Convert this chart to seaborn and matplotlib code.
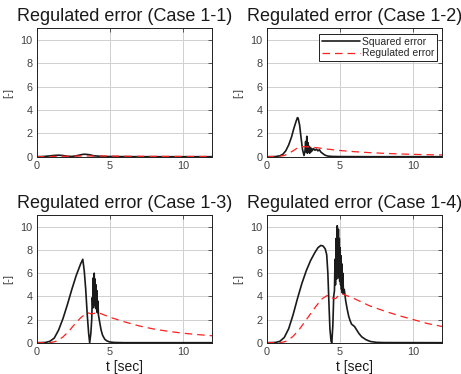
import matplotlib
matplotlib.use("Agg")
import matplotlib.pyplot as plt
import seaborn as sns
import pandas as pd

# ---------------- data ----------------
titles = ["Regulated error (Case 1-1)", "Regulated error (Case 1-2)",
          "Regulated error (Case 1-3)", "Regulated error (Case 1-4)"]
series_names = ["Squared error", "Regulated error"]
x_ticks = [0, 5, 10]
y_ticks = [0, 2, 4, 6, 8, 10]

# Case 1-1
sq1_t = [0, 0.5, 0.9, 1.2, 1.5, 1.8, 2.1, 2.4, 2.8, 3.1, 3.3, 3.6, 3.9, 4.3, 4.8, 5.5, 7, 9, 12]
sq1_v = [0, 0.02, 0.07, 0.11, 0.13, 0.1, 0.04, 0.02, 0.1, 0.19, 0.21, 0.17, 0.08, 0.04, 0.02, 0.01, 0, 0, 0]
rg1_t = [0, 1.0, 2.0, 3.0, 4.0, 5.0, 6.0, 8.0, 10.0, 12.0]
rg1_v = [0, 0.02, 0.04, 0.06, 0.06, 0.05, 0.04, 0.03, 0.02, 0.02]

# Case 1-2
sq2_t = [0, 0.6, 0.9, 1.1, 1.3, 1.5, 1.7, 1.85, 2.0, 2.1, 2.15, 2.25, 2.35, 2.45, 2.55,
         2.62, 2.66, 2.7, 2.74, 2.78, 2.82, 2.86, 2.9, 2.94, 2.98, 3.02, 3.06, 3.1,
         3.2, 3.3, 3.4, 3.5, 3.6, 3.7, 3.85, 4.0, 4.2, 4.5, 5.0, 7, 12]
sq2_v = [0, 0.01, 0.08, 0.2, 0.5, 1.0, 1.7, 2.4, 3.0, 3.35, 3.3, 2.7, 1.6, 0.6, 0.1,
         0.5, 1.3, 0.4, 1.75, 0.3, 1.2, 0.4, 0.9, 0.3, 0.8, 0.4, 0.7, 0.5,
         0.7, 0.55, 0.65, 0.5, 0.6, 0.4, 0.25, 0.12, 0.05, 0.02, 0.01, 0, 0]
rg2_t = [0, 0.8, 1.2, 1.5, 1.8, 2.1, 2.3, 2.6, 3.0, 3.5, 4.0, 4.5, 5.0, 6.0, 7.0, 8.0, 9.0, 10.0, 11.0, 12.0]
rg2_v = [0, 0.02, 0.1, 0.28, 0.5, 0.75, 0.85, 0.86, 0.83, 0.76, 0.67, 0.6, 0.53, 0.43, 0.35, 0.29, 0.24, 0.2, 0.17, 0.15]

# Case 1-3
sq3_t = [0, 0.6, 0.9, 1.2, 1.5, 1.8, 2.1, 2.4, 2.7, 3.0, 3.15, 3.25, 3.35, 3.45, 3.55, 3.62,
         3.7, 3.76, 3.8, 3.84, 3.87, 3.9, 3.93, 3.96, 3.99, 4.02, 4.05, 4.08, 4.11, 4.14,
         4.18, 4.22, 4.3, 4.4, 4.5, 4.65, 4.8, 5.0, 5.3, 6, 12]
sq3_v = [0, 0.02, 0.12, 0.4, 1.1, 2.1, 3.3, 4.6, 5.8, 6.8, 7.2, 6.2, 4.6, 2.5, 0.8, 0.0,
         0.8, 2.0, 3.9, 3.0, 5.6, 3.2, 6.0, 3.4, 5.5, 3.0, 5.0, 2.9, 4.5, 2.6,
         3.6, 2.4, 1.8, 1.1, 0.65, 0.3, 0.15, 0.06, 0.02, 0, 0]
rg3_t = [0, 1.0, 1.4, 1.8, 2.2, 2.6, 3.0, 3.3, 3.5, 3.7, 3.9, 4.1, 4.3, 4.6, 5.0, 5.5, 6.0, 7.0, 8.0, 9.0, 10.0, 11.0, 12.0]
rg3_v = [0, 0.02, 0.15, 0.5, 1.0, 1.6, 2.15, 2.45, 2.58, 2.5, 2.52, 2.6, 2.55, 2.4, 2.2, 2.0, 1.8, 1.45, 1.18, 0.98, 0.82, 0.7, 0.6]

# Case 1-4
sq4_t = [0, 0.6, 0.9, 1.2, 1.5, 1.8, 2.1, 2.4, 2.7, 3.0, 3.3, 3.5, 3.7, 3.85, 4.0, 4.1, 4.18,
         4.25, 4.32, 4.4, 4.45, 4.52, 4.58, 4.63, 4.67, 4.7, 4.74, 4.78, 4.82, 4.86, 4.9,
         4.93, 4.96, 4.99, 5.02, 5.05, 5.08, 5.11, 5.14, 5.17, 5.2, 5.25, 5.3, 5.4, 5.5,
         5.6, 5.7, 5.8, 5.9, 6.0, 6.1, 6.2, 6.3, 6.5, 6.8, 7.1, 7.5, 8.0, 12]
sq4_v = [0, 0.02, 0.12, 0.45, 1.2, 2.4, 3.8, 5.1, 6.2, 7.1, 7.8, 8.2, 8.4, 8.35, 8.1, 7.6, 6.0,
         3.5, 1.2, 0.1, 0.0, 1.5, 4.0, 4.5, 7.2, 5.0, 9.0, 5.5, 10.1, 6.0, 9.8,
         5.6, 9.0, 5.3, 8.2, 5.0, 7.5, 4.6, 6.8, 4.3, 6.0, 4.2, 4.6, 3.6, 2.9,
         2.3, 1.9, 1.6, 1.5, 1.4, 1.2, 1.0, 0.8, 0.5, 0.25, 0.1, 0.03, 0.01, 0]
rg4_t = [0, 1.0, 1.4, 1.8, 2.2, 2.6, 3.0, 3.4, 3.8, 4.1, 4.3, 4.5, 4.7, 4.9, 5.1, 5.5, 6.0, 6.5, 7.0, 8.0, 9.0, 10.0, 11.0, 12.0]
rg4_v = [0, 0.02, 0.15, 0.55, 1.1, 1.8, 2.5, 3.2, 3.8, 4.05, 4.1, 3.85, 3.8, 4.05, 4.25, 4.05, 3.8, 3.5, 3.2, 2.75, 2.35, 2.0, 1.65, 1.4]

cases = [
    (sq1_t, sq1_v, rg1_t, rg1_v),
    (sq2_t, sq2_v, rg2_t, rg2_v),
    (sq3_t, sq3_v, rg3_t, rg3_v),
    (sq4_t, sq4_v, rg4_t, rg4_v),
]

# ---------------- drawing ----------------
sns.set_style("white")
plt.rcParams["font.family"] = ["Liberation Sans", "DejaVu Sans"]

fig = plt.figure(figsize=(4.61, 3.74), dpi=100)
W, H = 461, 374
boxes = [(36.7, 28.3, 212.3, 156.7), (266.7, 28.3, 442.3, 156.7),
         (36.7, 215.3, 212.3, 342.7), (266.7, 215.3, 442.3, 342.7)]

tick_col = "#404040"
for i, (box, title, (st, sv, rt, rv)) in enumerate(zip(boxes, titles, cases)):
    x0, y0, x1, y1 = box
    ax = fig.add_axes([x0 / W, 1 - y1 / H, (x1 - x0) / W, (y1 - y0) / H])
    df_sq = pd.DataFrame({"t": st, "v": sv})
    df_rg = pd.DataFrame({"t": rt, "v": rv})
    sns.lineplot(data=df_sq, x="t", y="v", ax=ax, color="#1a1a1a", lw=1.2,
                 label=series_names[0], estimator=None, sort=False)
    sns.lineplot(data=df_rg, x="t", y="v", ax=ax, color="#ff2020", lw=0.9,
                 label=series_names[1], estimator=None, sort=False)
    ax.lines[-1].set_dashes((6, 4))
    ax.set_xlim(0, 12)
    ax.set_ylim(0, 11)
    ax.set_xticks(x_ticks)
    ax.set_yticks(y_ticks)
    ax.grid(True, color="#d0d0d0", lw=0.7)
    ax.tick_params(direction="in", length=3, width=0.6, labelsize=7.8,
                   colors=tick_col, pad=3, top=True, right=True)
    ax.tick_params(axis="both", labelcolor=tick_col)
    for s in ax.spines.values():
        s.set_color("#202020")
        s.set_linewidth(0.7)
    ax.set_title(title, fontsize=13, color="#1a1a1a", pad=5)
    ax.set_ylabel("[-]", fontsize=8, color=tick_col, labelpad=5)
    if i >= 2:
        ax.set_xlabel("t [sec]", fontsize=10, color="#1a1a1a", labelpad=2)
    else:
        ax.set_xlabel("")
    if i == 1:
        leg = ax.legend(loc="upper right", fontsize=7.5, frameon=True, fancybox=False,
                        borderpad=0.3, handlelength=3.6, handletextpad=0.2,
                        labelspacing=0.15, borderaxespad=0.5)
        leg.get_frame().set_edgecolor("#202020")
        leg.get_frame().set_linewidth(0.7)
        leg.get_frame().set_alpha(1)
    else:
        lg = ax.get_legend()
        if lg is not None:
            lg.remove()

fig.savefig("out.png", dpi=100)
